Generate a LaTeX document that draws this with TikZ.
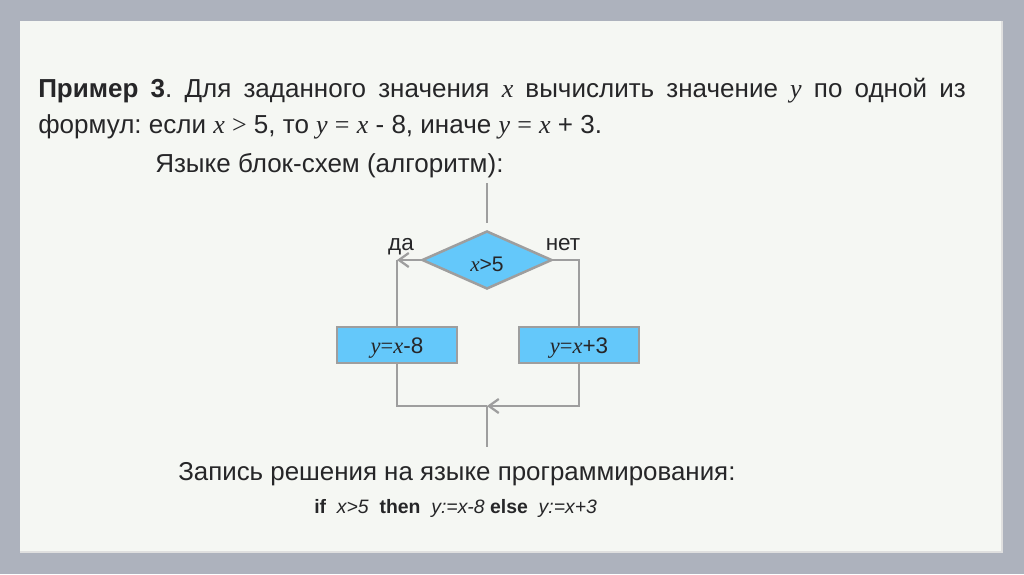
\documentclass[tikz,border=0pt]{standalone}
\usepackage{fontspec}
\setmainfont{Liberation Sans}
\newfontfamily\serifvar{Liberation Serif}
\usetikzlibrary{positioning, arrows.meta, shapes.geometric}

\definecolor{slidegray}{RGB}{173,178,189}
\definecolor{panelbg}{RGB}{245,247,243}
\definecolor{textdark}{RGB}{38,38,40}
\definecolor{linegray}{RGB}{158,158,158}
\definecolor{blockblue}{RGB}{100,200,250}

% letters of a formula, set like Times italic
\newcommand{\mv}[1]{{\serifvar\itshape #1}}
\newcommand{\mrel}[1]{{\serifvar #1}}
% move a text down in its shape, keeping the shape where it is
\newcommand{\lowered}[2]{\raisebox{-#1}[\height][\depth]{#2}}

\begin{document}
\frenchspacing
\begin{tikzpicture}[
    x=0.025cm, y=-0.025cm,
    txt/.style={anchor=base west, inner sep=0pt, text=textdark, font=\fontsize{18.5pt}{22pt}\selectfont},
    label text/.style={anchor=base, inner sep=0pt, text=textdark, font=\fontsize{16pt}{19pt}\selectfont},
    block/.style={draw=linegray, line width=1.8pt, fill=blockblue, minimum width=3.0cm, minimum height=0.9cm, inner sep=0pt, text=textdark, font=\fontsize{16pt}{19pt}\selectfont},
    cond/.style={diamond, draw=linegray, line width=1.8pt, fill=blockblue, minimum width=3.25cm, minimum height=1.45cm, inner sep=0pt, text=textdark, font=\fontsize{15pt}{18pt}\selectfont},
    flow/.style={draw=linegray, line width=1.6pt},
    >={Straight Barb[length=7pt, width=10pt]}
]

% --- slide ---
\useasboundingbox (0,0) rectangle (1024,574);
\fill[slidegray] (0,0) rectangle (1024,574);
\fill[panelbg] (20,21) rectangle (1002,552);
\draw[white!75!gray, line width=0.8pt] (1002,21) -- (1002,552) -- (20,552);

% --- task text ---
\node[txt] (line1) at (38,97) {\makebox[23.18cm][s]{\textbf{Пример 3}. Для заданного значения \mv{x} вычислить значение \mv{y} по одной из}};
\node[txt] (line2) at (38,133) {формул: если \mv{x} \mrel{>} 5, то \mv{y} \mrel{=} \mv{x} - 8, иначе \mv{y} \mrel{=} \mv{x} + 3.};
\node[txt] (line3) at (155,172) {Языке блок-схем (алгоритм):};

% --- flowchart ---
\coordinate (start) at (487,183);
\node[cond] (test) at (487,260) {\lowered{3pt}{\mv{x}>5}};
\node[block] (yesbox) at (397,345) {\lowered{2.5pt}{\mv{y}\mrel{=}\mv{x}-8}};
\node[block] (nobox) at (579,345) {\lowered{2.5pt}{\mv{y}\mrel{=}\mv{x}+3}};
\node[label text] (yes) at (401,250) {да};
\node[label text] (no) at (563,250) {нет};
\coordinate (yesturn) at (test.west -| yesbox.north);
\coordinate (merge) at (487,406);
\coordinate (finish) at (487,447);

\draw[flow, shorten >=4.5pt] (start) -- (test.north);
\draw[flow, ->] (test.west) -- (yesturn);
\draw[flow] (yesturn) -- (yesbox.north);
\draw[flow] (test.east) -| (nobox.north);
\draw[flow] (yesbox.south) |- (merge);
\draw[flow, ->] (nobox.south) |- (merge);
\draw[flow] (merge) -- (finish);

% --- program text ---
\node[txt, font=\fontsize{18.4pt}{22pt}\selectfont] (progtitle) at (178,480) {Запись решения на языке программирования:};
\node[txt, font=\fontsize{13.8pt}{16pt}\selectfont] (code) at (314,513) {\textbf{if}\ \ \textit{x>5}\ \ \textbf{then}\ \ \textit{y:=x-8} \textbf{else}\ \ \textit{y:=x+3}};

\end{tikzpicture}
\end{document}
